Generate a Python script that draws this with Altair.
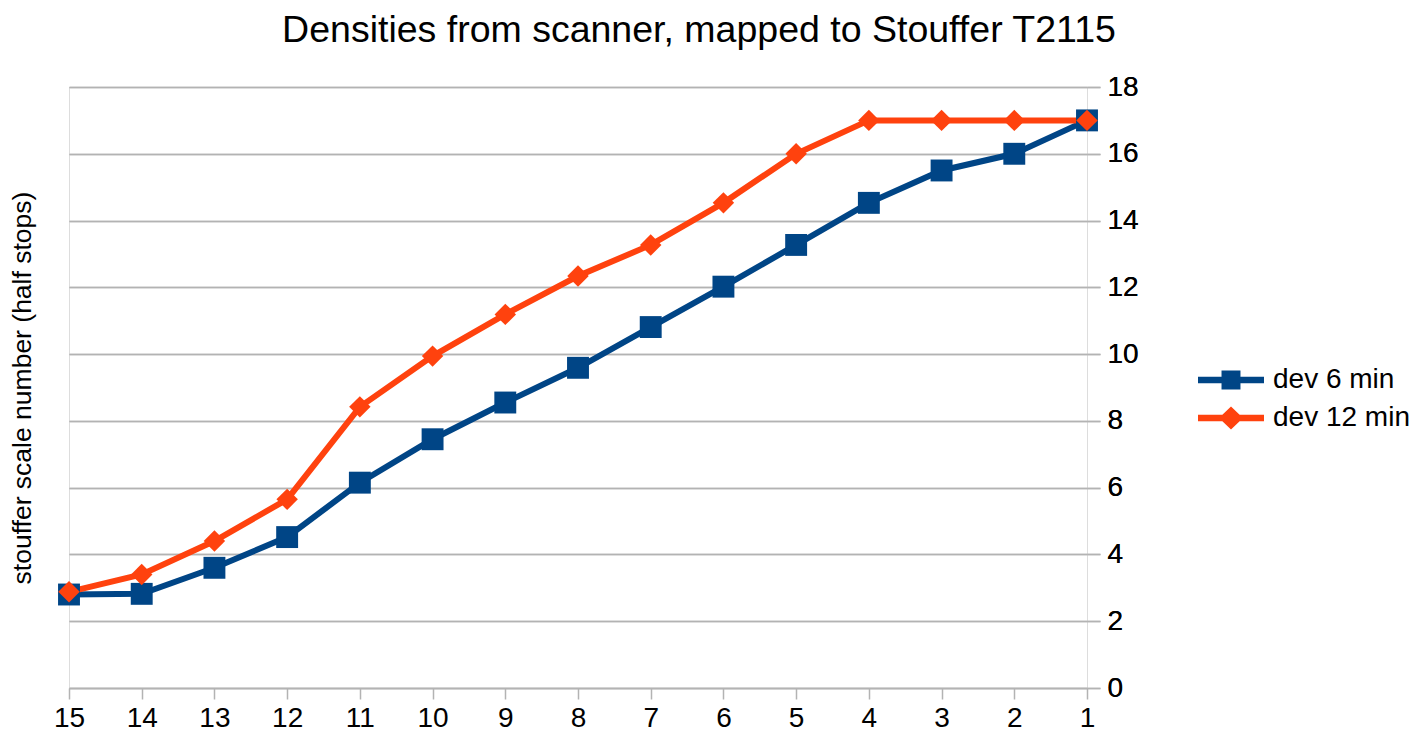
import altair as alt
import pandas as pd

steps = [15, 14, 13, 12, 11, 10, 9, 8, 7, 6, 5, 4, 3, 2, 1]
dev6 = [2.8, 2.82, 3.6, 4.52, 6.15, 7.45, 8.55, 9.59, 10.81, 12.02, 13.27, 14.53, 15.5, 16.0, 17.0]
dev12 = [2.88, 3.4, 4.4, 5.65, 8.42, 9.94, 11.19, 12.34, 13.27, 14.53, 16.0, 17.0, 17.0, 17.0, 17.0]
series_names = ["dev 6 min", "dev 12 min"]
colors = ["#004586", "#ff420e"]
y_ticks = [0, 2, 4, 6, 8, 10, 12, 14, 16, 18]

df = pd.DataFrame({
    "step": steps + steps,
    "value": dev6 + dev12,
    "series": [series_names[0]] * len(steps) + [series_names[1]] * len(steps),
    "order": list(range(len(steps))) * 2,
})

FONT = "Liberation Sans"
GRID = "#b3b3b3"

x_enc = alt.X(
    "step:Q",
    scale=alt.Scale(domain=[15, 1], nice=False, zero=False),
    axis=alt.Axis(values=steps, format="d", title=None, grid=False, tickSize=11,
                  labelPadding=5, labelFontSize=28, labelColor="black", labelFont=FONT,
                  domainColor=GRID, tickColor=GRID, domainWidth=1.5, tickWidth=1.5,
                  labelFlush=False),
)
y_scale = alt.Scale(domain=[0, 18], nice=False)
y_right = alt.Y(
    "value:Q", scale=y_scale,
    axis=alt.Axis(orient="right", values=y_ticks, title=None, tickSize=13, labelPadding=7,
                  labelFontSize=28, labelColor="black", labelFont=FONT, domain=False,
                  grid=True, gridColor=GRID, gridWidth=1.5, tickColor=GRID, tickWidth=1.5,
                  labelFlush=False),
)
y_left = alt.Y(
    "value:Q", scale=y_scale,
    axis=alt.Axis(orient="left", labels=False, ticks=False, domain=False, grid=False,
                  title="stouffer scale number (half stops)", titleFontSize=26.5,
                  titleFontWeight="normal", titleFont=FONT, titleColor="black",
                  titlePadding=33),
)
color_enc = alt.Color("series:N", scale=alt.Scale(domain=series_names, range=colors), legend=None)

base = alt.Chart(df)
lines = base.mark_line(strokeWidth=6).encode(x=x_enc, y=y_left, color=color_enc, order="order:Q")
pts6 = base.transform_filter(alt.datum.series == series_names[0]).mark_point(
    shape="square", filled=True, size=480, opacity=1).encode(x=x_enc, y=y_right, color=color_enc)
pts12 = base.transform_filter(alt.datum.series == series_names[1]).mark_point(
    shape="diamond", filled=True, size=460, opacity=1).encode(x=x_enc, y=y_right, color=color_enc)

u = 12.0
sq = "M-1,-0.28H0.96V-0.79H2.54V-0.28H4.5V0.28H2.54V0.79H0.96V0.28H-1Z"
dia = "M-1,-0.28H1.03L1.75,-0.95L2.47,-0.28H4.5V0.28H2.47L1.75,0.95L1.03,0.28H-1Z"
leg = dict(title=None, orient="none", legendX=1127, legendY=279,
           symbolSize=u * u * 4, labelFontSize=28, labelFont=FONT,
           labelColor="black", labelOffset=49, rowPadding=10,
           padding=0, symbolStrokeWidth=0, labelLimit=400)
legend_layer = base.transform_filter("false").mark_point(filled=True, opacity=1, strokeWidth=0).encode(
    shape=alt.Shape("series:N", scale=alt.Scale(domain=series_names, range=[sq, dia]),
                    legend=alt.Legend(**leg)),
    color=alt.Color("series:N", scale=alt.Scale(domain=series_names, range=colors),
                    legend=alt.Legend(**leg)),
)

chart = alt.layer(legend_layer, lines, pts6, pts12).resolve_axis(y="independent").properties(
    width=1018, height=601, padding={"left": 1, "top": 3, "right": 5, "bottom": 5},
    title=alt.TitleParams("Densities from scanner, mapped to Stouffer T2115", fontSize=37.5,
                          font=FONT, fontWeight="normal", color="black", anchor="middle",
                          dx=121, offset=24),
).configure_view(stroke=GRID, strokeWidth=1.5).configure(background="white")

chart.save("out.html", embed_options={"renderer": "svg", "actions": False})
